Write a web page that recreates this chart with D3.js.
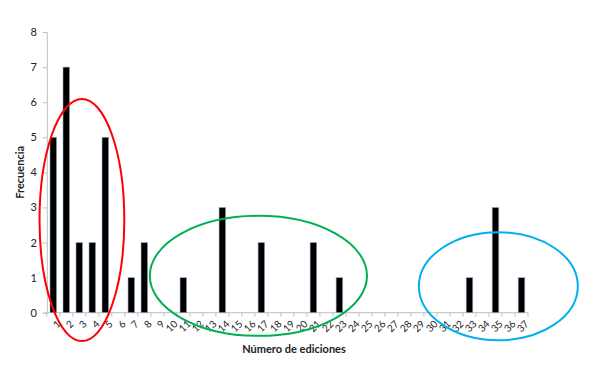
<!DOCTYPE html>
<html><head><meta charset="utf-8">
<script src="https://cdn.jsdelivr.net/npm/d3@7"></script>
<style>body{margin:0;background:#fff}svg{display:block}text{font-family:Lato,"Open Sans",sans-serif}</style>
</head><body>
<script>
const categories = d3.range(1, 38).map(String);
const values = [5,7,2,2,5,0,1,2,0,0,1,0,0,3,0,0,2,0,0,0,2,0,1,0,0,0,0,0,0,0,0,0,1,0,3,0,1];
const yTicks = [0,1,2,3,4,5,6,7,8];
const xTitle = "Número de ediciones";
const yTitle = "Frecuencia";
// annotation ellipses in data units (category-index position, value)
const ellipses = [
  {cx: 2.70, cy: 2.64, rx: 3.26, ry: 3.45, color: "#ff0000"},
  {cx: 16.27, cy: 1.05, rx: 8.35, ry: 1.71, color: "#00b050"},
  {cx: 34.72, cy: 0.755, rx: 6.11, ry: 1.54, color: "#00b0f0"}
];

(function(){
const W = 600, H = 365;
const mL = 46.8, mR = 528, mT = 32, mB = 312.7;
const svg = d3.select("body").append("svg").attr("width", W).attr("height", H);

const x = d3.scaleBand().domain(categories).range([mL, mR]).paddingInner(0.49).paddingOuter(0.245);
const xl = d3.scaleLinear().domain([0, categories.length]).range([mL, mR]);
const y = d3.scaleLinear().domain([0, 8]).range([mB, mT]);

// y axis
const ya = svg.append("g").attr("transform", `translate(${mL},0)`)
  .call(d3.axisLeft(y).tickValues(yTicks).tickSize(4).tickPadding(6));
ya.select(".domain").attr("stroke", "#bfbfbf");
ya.selectAll(".tick line").attr("stroke", "#bfbfbf");
ya.selectAll("text").attr("font-size", 11).attr("fill", "#222");

// x axis: ticks at band boundaries
const xg = svg.append("g").attr("transform", `translate(0,${mB})`);
xg.append("line").attr("x1", mL).attr("x2", mR).attr("stroke", "#bfbfbf");
xg.selectAll("line.tk").data(d3.range(0, categories.length + 1)).join("line")
  .attr("class", "tk").attr("x1", d => xl(d)).attr("x2", d => xl(d))
  .attr("y1", 0).attr("y2", 4).attr("stroke", "#bfbfbf");
xg.selectAll("text").data(categories).join("text")
  .attr("transform", d => `translate(${x(d) + x.bandwidth()/2 + 3},${7}) rotate(-45)`)
  .attr("text-anchor", "end").attr("dy", "0.7em")
  .attr("font-size", 10).attr("fill", "#222").text(d => d);

// bars
svg.append("g").selectAll("rect").data(values).join("rect")
  .attr("x", (d, i) => x(categories[i]))
  .attr("width", x.bandwidth())
  .attr("y", d => y(d))
  .attr("height", d => y(0) - y(d))
  .attr("fill", "#000").attr("stroke", "#9db3cf").attr("stroke-width", 0.6);

// titles
svg.append("text").attr("x", 294).attr("y", 353).attr("text-anchor", "middle")
  .attr("font-size", 11).attr("font-weight", "bold").attr("fill", "#222").text(xTitle);
svg.append("text").attr("transform", `translate(24,${(mT+mB)/2}) rotate(-90)`)
  .attr("text-anchor", "middle").attr("font-size", 11).attr("font-weight", "bold").attr("fill", "#222").text(yTitle);

// ellipses
svg.append("g").selectAll("ellipse").data(ellipses).join("ellipse")
  .attr("cx", d => xl(d.cx)).attr("cy", d => y(d.cy))
  .attr("rx", d => xl(d.rx) - xl(0)).attr("ry", d => y(0) - y(d.ry))
  .attr("fill", "none").attr("stroke", d => d.color).attr("stroke-width", 2);
})();
</script>
</body></html>
